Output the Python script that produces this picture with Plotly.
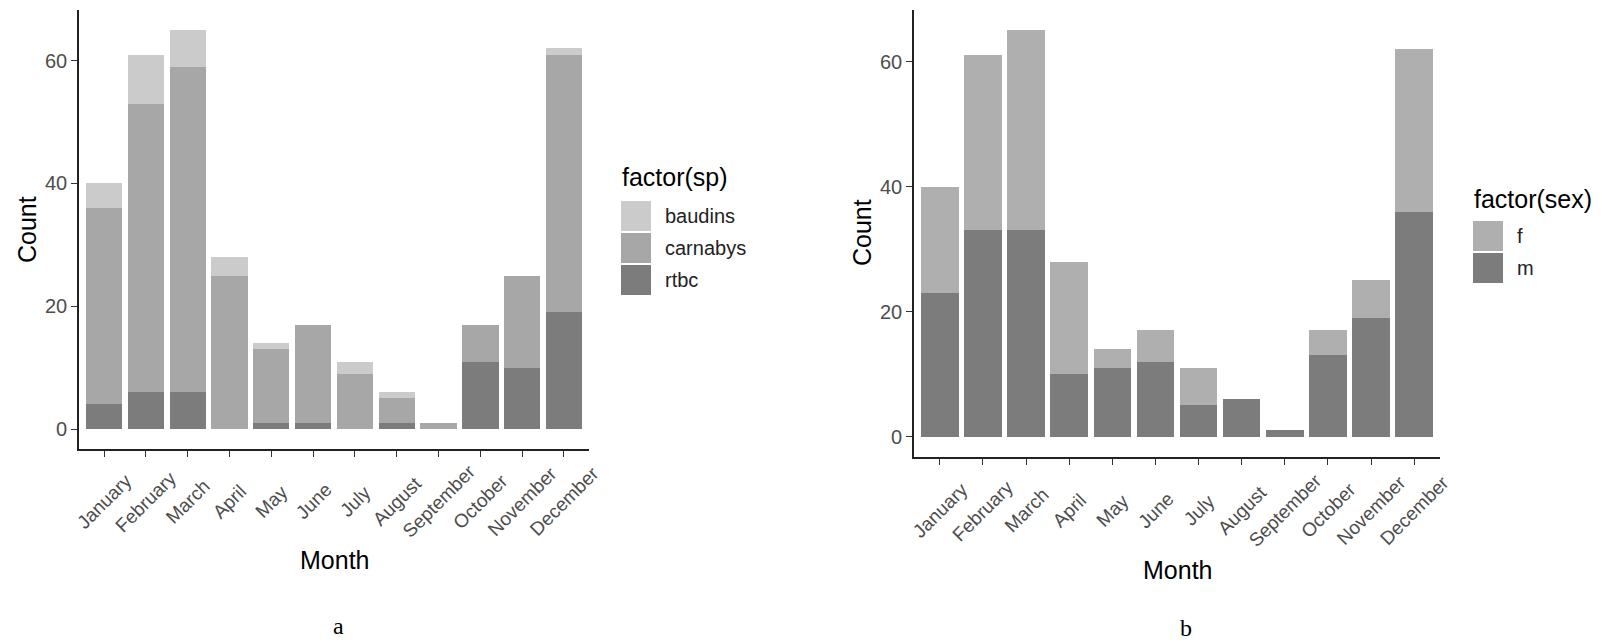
import plotly.graph_objects as go

months = ["January", "February", "March", "April", "May", "June", "July",
          "August", "September", "October", "November", "December"]

# Panel a: species counts per month
sp_names = ["baudins", "carnabys", "rtbc"]
baudins = [4, 8, 6, 3, 1, 0, 2, 1, 0, 0, 0, 1]
carnabys = [32, 47, 53, 25, 12, 16, 9, 4, 1, 6, 15, 42]
rtbc = [4, 6, 6, 0, 1, 1, 0, 1, 0, 11, 10, 19]

# Panel b: sex counts per month
sex_names = ["f", "m"]
female = [17, 28, 32, 18, 3, 5, 6, 0, 0, 4, 6, 26]
male = [23, 33, 33, 10, 11, 12, 5, 6, 1, 13, 19, 36]

y_ticks = [0, 20, 40, 60]

sp_colors = {"baudins": "#cbcbcb", "carnabys": "#a7a7a7", "rtbc": "#7c7c7c"}
sex_colors = {"f": "#afafaf", "m": "#7c7c7c"}

W, H = 1606, 644
FONT = "Liberation Sans"

fig = go.Figure()

# stacking order: first trace at bottom
for name, vals in [("rtbc", rtbc), ("carnabys", carnabys), ("baudins", baudins)]:
    fig.add_trace(go.Bar(x=months, y=vals, name=name, marker_color=sp_colors[name],
                         marker_line_width=0, width=0.87, xaxis="x", yaxis="y",
                         showlegend=False))
for name, vals in [("m", male), ("f", female)]:
    fig.add_trace(go.Bar(x=months, y=vals, name=name, marker_color=sex_colors[name],
                         marker_line_width=0, width=0.87, xaxis="x2", yaxis="y2",
                         showlegend=False))

def px(x):
    return x / W

def py(y):
    return 1 - y / H

axis_common = dict(showline=True, linecolor="#222222", linewidth=1.6,
                   ticks="outside", ticklen=6, tickcolor="#333333", tickwidth=1.3,
                   showgrid=False, zeroline=False, automargin=False,
                   tickfont=dict(family=FONT, size=20, color="#4d4d4d"))

ymax = max(a + b + c for a, b, c in zip(baudins, carnabys, rtbc))
yrange = [-0.05 * ymax, ymax * 1.05]

fig.update_layout(
    width=W, height=H, margin=dict(l=0, r=0, t=0, b=0, autoexpand=False),
    paper_bgcolor="white", plot_bgcolor="white",
    barmode="stack", bargap=0.13,
    xaxis=dict(domain=[px(79), px(589)], anchor="y", range=[-0.6, 11.6],
               categoryorder="array", categoryarray=months, showticklabels=False,
               **axis_common),
    yaxis=dict(domain=[py(449), py(10)], anchor="x", range=yrange,
               tickvals=y_ticks, **axis_common),
    xaxis2=dict(domain=[px(914), px(1440)], anchor="y2", range=[-0.6, 11.6],
                categoryorder="array", categoryarray=months, showticklabels=False,
                **axis_common),
    yaxis2=dict(domain=[py(457), py(10)], anchor="x2", range=yrange,
                tickvals=y_ticks, **axis_common),
)

ann = []
shapes = []

def text(x, y, s, size=25, color="black", xanchor="center", family=FONT, angle=0):
    ann.append(dict(x=px(x), y=py(y), xref="paper", yref="paper", text=s,
                    showarrow=False, xanchor=xanchor, yanchor="middle",
                    textangle=angle, font=dict(family=family, size=size, color=color)))

# rotated month tick labels, centred under each tick (ggplot style)
for xref, yc in [("x", 501), ("x2", 510)]:
    for m in months:
        ann.append(dict(x=m, y=py(yc), xref=xref, yref="paper", text=m,
                        showarrow=False, xanchor="center", yanchor="middle",
                        textangle=-45,
                        font=dict(family=FONT, size=19, color="#4d4d4d")))

# axis titles
text(27, 230, "Count", angle=-90)
text(334, 560, "Month")
text(862, 233, "Count", angle=-90)
text(1177, 570, "Month")
# panel labels
text(338, 626, "a", size=24, family="Liberation Serif")
text(1186, 628, "b", size=24, family="Liberation Serif")

# legends
def legend(x0, title_y, first_key_top, names, colors, title):
    text(x0 - 1, title_y, title, size=25, xanchor="left")
    for i, n in enumerate(names):
        top = first_key_top + i * 32
        shapes.append(dict(type="rect", xref="paper", yref="paper",
                           x0=px(x0), x1=px(x0 + 30), y0=py(top + 30), y1=py(top),
                           fillcolor=colors[n], line_width=0))
        text(x0 + 42, top + 15, n, size=20, xanchor="left", color="#222222")

legend(621, 177, 201, sp_names, sp_colors, "factor(sp)")
legend(1473, 199, 221, sex_names, sex_colors, "factor(sex)")

fig.update_layout(annotations=ann, shapes=shapes)

fig.write_html("out.html")
